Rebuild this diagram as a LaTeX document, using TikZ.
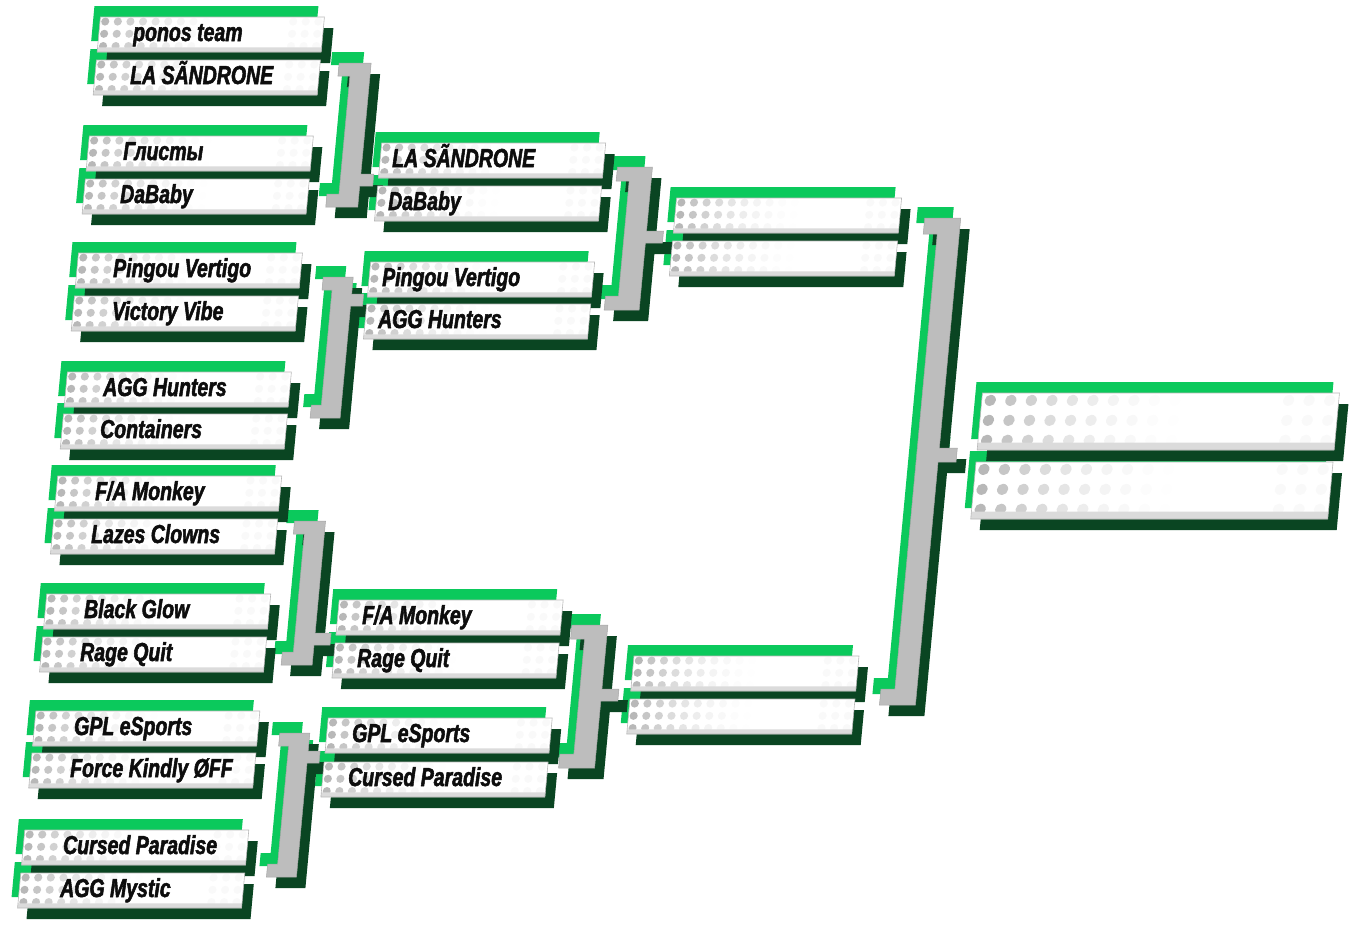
\documentclass[tikz,border=0pt]{standalone}
\usepackage{fontspec}
\setmainfont{Liberation Sans}[FakeStretch=0.75,BoldItalicFeatures={FakeBold=2}]
\definecolor{brgreen}{HTML}{0BC95C}
\definecolor{dkgreen}{HTML}{0A4522}
\definecolor{cgray}{HTML}{BDBDBD}
\tikzset{
  teamlabel/.style={anchor=base west,inner sep=0pt,text=black!95,font=\fontsize{26}{26}\selectfont\bfseries\itshape},
}
% slots: u(left, unslanted)/top/width/height
\def\slotlist{102/17/224/35,102/60/224/35,102/136/224/35,102/179/224/35,
102/253/224/35,102/296/224/35,102/372/224/35,102/414/224/35,
102/476/224/35,102/519/224/35,102/594/224/35,102/637/224/35,
102/711/224/35,102/753/224/35,102/830/224/35,102/873/224/35,
395/143/224/35,395/186/224/35,395/262/224/35,395/304/224/35,
395/600/224/35,395/643/224/35,395/718/224/35,395/762/224/35,
695/198/225/35,695/241/225/35,695/656/225/35,695/699/225/35,
1019/393/357/57,1019/462/357/57}
% connectors: left/right/barwidth/top/bottom/stub/ymid/halfmid/xmid
\def\connlist{345/377/20/63/207/13/180/6/390,
349/379/20/277/418/13/300/6/391,
343/374/20/521/665/13/639/6/390,
348/378/20/733/877/13/757/6/390,
633/668/22/167/310/14/237/6/685,
630/666/22/625/768/14/695/6/683,
945/981/22/218/705/16/455/7/999}
\newcommand\connshape{(\cL,\cT) -- (\cR,\cT) -- (\cR,\cM-\cH) -- (\cX,\cM-\cH) -- (\cX,\cM+\cH) -- (\cR,\cM+\cH) -- (\cR,\cBo) -- (\cL,\cBo) -- (\cL,\cBo-\cS) -- (\cR-\cW,\cBo-\cS) -- (\cR-\cW,\cT+\cS) -- (\cL,\cT+\cS) -- cycle}
\begin{document}
\begin{tikzpicture}[x=1pt,y=-1pt]
\useasboundingbox (0,0) rectangle (1363,929);
\begin{scope}[xslant=0.093]
% ---- layer 1: bright green offsets
\foreach \su/\st/\sw/\sh in \slotlist {
  \fill[brgreen] (\su-7,\st-11) rectangle ++(\sw,\sh);
}
\foreach \cL/\cR/\cW/\cT/\cBo/\cS/\cM/\cH/\cX in \connlist {
  \fill[brgreen,shift={(-8,-11)}] \connshape;
}
% ---- layer 2: dark green shadows
\foreach \su/\st/\sw/\sh in \slotlist {
  \fill[dkgreen] (\su+10,\st+11) rectangle ++(\sw,\sh);
}
\foreach \cL/\cR/\cW/\cT/\cBo/\cS/\cM/\cH/\cX in \connlist {
  \fill[dkgreen,shift={(10,11)}] \connshape;
}
% ---- layer 3: connectors
\foreach \cL/\cR/\cW/\cT/\cBo/\cS/\cM/\cH/\cX in \connlist {
  \filldraw[fill=cgray,draw=black!35,line width=0.5pt] \connshape;
}
% ---- layer 3: white slots
\foreach \su/\st/\sw/\sh in \slotlist {
  \fill[white] (\su,\st) rectangle ++(\sw,\sh);
  \begin{scope}
    \clip (\su,\st) rectangle ++(\sw,\sh);
    \pgfmathsetmacro\dotrad{0.07*\sh+1.6}
    \pgfmathsetmacro\dotstep{0.36*\sh}
    \foreach \jj in {0,1,2} {
      \pgfmathsetmacro\dotyy{\st+0.13*\sh+\jj*0.35*\sh}
      \foreach \ii in {0,...,9} {
        \pgfmathsetmacro\dotop{0.5*(1-\ii/10)^2}
        \pgfmathsetmacro\dotxx{\su+0.15*\sh+\ii*\dotstep}
        \fill[black!55,opacity=\dotop] (\dotxx,\dotyy) circle (\dotrad);
      }
      \foreach \ii in {1,2,3} {
        \pgfmathsetmacro\dotxx{\su+\sw+0.2*\sh-\ii*\dotstep}
        \fill[black!55,opacity=0.04] (\dotxx,\dotyy) circle (\dotrad);
      }
    }
    \fill[black!14] (\su,\st+0.87*\sh) rectangle (\su+\sw,\st+\sh);
  \end{scope}
  \draw[black!28,line width=0.6pt] (\su,\st) rectangle ++(\sw,\sh);
}
\end{scope}
% ---- team names (round 1)
\node[teamlabel] (a1) at (133,41) {ponos team};
\node[teamlabel] (a2) at (130,84) {LA SÃNDRONE};
\node[teamlabel] (a3) at (123,160) {Глисты};
\node[teamlabel] (a4) at (120,203) {DaBaby};
\node[teamlabel] (a5) at (113,277) {Pingou Vertigo};
\node[teamlabel] (a6) at (112,320) {Victory Vibe};
\node[teamlabel] (a7) at (103,396) {AGG Hunters};
\node[teamlabel] (a8) at (100,438) {Containers};
\node[teamlabel] (a9) at (95,500) {F/A Monkey};
\node[teamlabel] (a10) at (91,543) {Lazes Clowns};
\node[teamlabel] (a11) at (84,618) {Black Glow};
\node[teamlabel] (a12) at (80,661) {Rage Quit};
\node[teamlabel] (a13) at (74,735) {GPL eSports};
\node[teamlabel] (a14) at (70,777) {Force Kindly ØFF};
\node[teamlabel] (a15) at (63,854) {Cursed Paradise};
\node[teamlabel] (a16) at (60,897) {AGG Mystic};
% ---- team names (round 2)
\node[teamlabel] (b1) at (392,167) {LA SÃNDRONE};
\node[teamlabel] (b2) at (388,210) {DaBaby};
\node[teamlabel] (b3) at (382,286) {Pingou Vertigo};
\node[teamlabel] (b4) at (378,328) {AGG Hunters};
\node[teamlabel] (b5) at (362,624) {F/A Monkey};
\node[teamlabel] (b6) at (357,667) {Rage Quit};
\node[teamlabel] (b7) at (352,742) {GPL eSports};
\node[teamlabel] (b8) at (348,786) {Cursed Paradise};
\end{tikzpicture}
\end{document}
